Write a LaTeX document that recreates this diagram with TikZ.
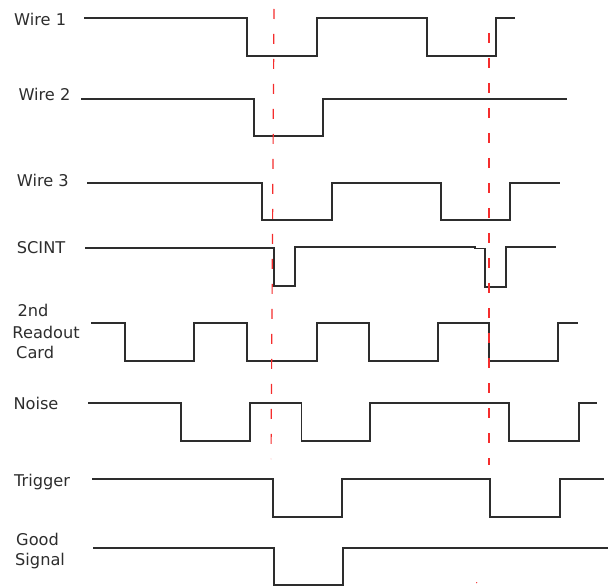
\documentclass[tikz,border=0pt]{standalone}
\usepackage{fontspec}
\setmainfont{DejaVu Sans}
\definecolor{mred}{RGB}{245,45,45}
\definecolor{wgray}{RGB}{45,45,45}
\begin{document}
\begin{tikzpicture}[x=1pt,y=-1pt,
  wave/.style={draw=wgray, line width=1.4pt, line join=miter},
  marker/.style={draw=mred, line width=1.2pt, dash pattern=on 10pt off 15pt},
  lbl/.style={anchor=base west, inner sep=0pt, font=\fontsize{16.2}{19}\selectfont, text=wgray}]
\useasboundingbox (0,0) rectangle (608,588);
% labels
\node[lbl] (w1) at (14,25.7) {Wire 1};
\node[lbl] (w2) at (18.3,101) {Wire 2};
\node[lbl] (w3) at (16.7,186.7) {Wire 3};
\node[lbl] (sc) at (16.7,254) {SCINT};
\node[lbl] (rc1) at (17.3,316.7) {2nd};
\node[lbl] (rc2) at (12.3,338.3) {Readout};
\node[lbl] (rc3) at (16,358.3) {Card};
\node[lbl] (ns) at (13.3,409) {Noise};
\node[lbl] (tr) at (14,486) {Trigger};
\node[lbl] (gs1) at (16,545) {Good};
\node[lbl] (gs2) at (15,565.7) {Signal};
% waveforms
\draw[wave] (84,18) -- (247,18) -- (247,56) -- (317,56) -- (317,18) -- (427,18) -- (427,56) -- (496,56) -- (496,18) -- (515,18);
\draw[wave] (81,99) -- (254,99) -- (254,136) -- (323,136) -- (323,99) -- (567,99);
\draw[wave] (87,183) -- (262,183) -- (262,220) -- (332,220) -- (332,183) -- (441,183) -- (441,220) -- (510,220) -- (510,183) -- (560,183);
\draw[wave] (85,248) -- (274,248) -- (274,286) -- (295,286) -- (295,247) -- (475,247) -- (475,248.5) -- (485,248.5) -- (485,287) -- (506,287) -- (506,247) -- (556,247);
\draw[wave] (91,323) -- (125,323) -- (125,361) -- (194,361) -- (194,323) -- (247,323) -- (247,361) -- (317,361) -- (317,323) -- (369,323) -- (369,361) -- (438,361) -- (438,323) -- (489,323) -- (489,361) -- (558,361) -- (558,323) -- (578,323);
\draw[wave] (88,403) -- (181,403) -- (181,441) -- (250,441) -- (250,403) -- (301.5,403) -- (301.5,441) -- (370,441) -- (370,403) -- (509,403) -- (509,441) -- (579,441) -- (579,403) -- (597,403);
\draw[wave] (92,479) -- (273,479) -- (273,517) -- (342,517) -- (342,479) -- (490,479) -- (490,517) -- (560,517) -- (560,479) -- (604,479);
\draw[wave] (93,548) -- (274,548) -- (274,585) -- (343,585) -- (343,548) -- (608,548);
% markers
\draw[marker] (274,9) -- (271,459);
\draw[marker] (489,33) -- (489,465);
\fill[mred] (476.7,582.7) circle (0.7pt);
\end{tikzpicture}
\end{document}
